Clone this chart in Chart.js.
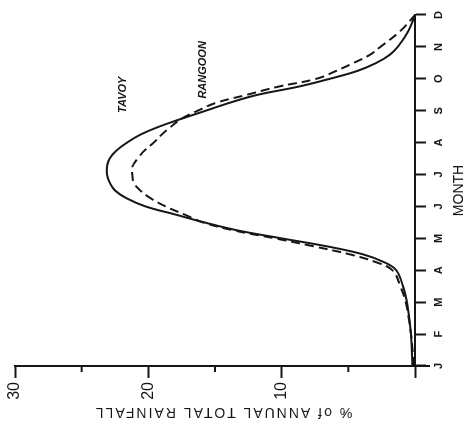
<!DOCTYPE html>
<html>
<head>
<meta charset="utf-8">
<script src="https://cdn.jsdelivr.net/npm/chart.js@4"></script>
<style>
  html, body { margin: 0; padding: 0; background: #fff; overflow: hidden; }
  /* the chart is drawn upright and then turned on its side */
  #wrap {
    position: absolute; left: 0; top: 0;
    width: 429px; height: 468px;
    transform-origin: 0 0;
    transform: translateY(429px) rotate(-90deg);
  }
</style>
</head>
<body>
<div id="wrap"><canvas id="rainChart" width="429" height="468"></canvas></div>
<script>
const months = ['J', 'F', 'M', 'A', 'M', 'J', 'J', 'A', 'S', 'O', 'N', 'D'];
// position along the year, 0 = January tick, 11 = December tick
const monthPos = [0, 1, 2, 2.5, 3, 3.25, 3.5, 3.75, 4, 4.25, 4.5, 4.75, 5, 5.25, 5.5, 5.75,
                  6, 6.25, 6.5, 6.75, 7, 7.25, 7.5, 7.75, 8, 8.25, 8.5, 8.75, 9, 9.25, 9.5, 9.75,
                  10, 10.5, 11];
// % of annual total rainfall
const tavoy = [0.2, 0.3, 0.6, 0.9, 1.4, 2.3, 3.9, 6.6, 10.0, 13.3, 15.8, 18.0, 20.2, 21.6, 22.5, 22.9,
               23.1, 23.1, 22.9, 22.4, 21.6, 20.6, 19.2, 17.5, 15.7, 13.9, 11.8, 8.8, 6.4, 4.3, 2.9, 1.9,
               1.3, 0.5, 0];
const rangoon = [0.1, 0.3, 0.7, 1.1, 1.7, 2.9, 4.9, 7.6, 10.5, 13.6, 15.9, 17.3, 18.7, 19.8, 20.6, 21.1,
                 21.2, 21.2, 20.8, 20.3, 19.6, 19.0, 18.3, 17.5, 16.3, 14.9, 12.6, 10.3, 7.4, 5.9, 4.6, 3.4,
                 2.6, 1.1, 0];
const pctLabels = [10, 20, 30];

const ink = '#161616';
const family = "'Liberation Sans', Arial, sans-serif";

function toPoints(vals) {
    return monthPos.map((m, i) => ({ x: m, y: vals[i] }));
}

// short ticks, the long J tick, station names and the rotated y title
const axisExtras = {
    id: 'axisExtras',
    afterDraw(chart) {
        const { ctx, chartArea: a, scales: { x, y } } = chart;
        ctx.save();
        ctx.strokeStyle = ink;
        ctx.lineWidth = 2;

        y.ticks.filter(t => t.value % 10 !== 0).forEach(t => {
            const py = y.getPixelForValue(t.value);
            ctx.beginPath();
            ctx.moveTo(a.left - 6, py);
            ctx.lineTo(a.left, py);
            ctx.stroke();
        });

        const x0 = x.getPixelForValue(0);
        ctx.beginPath();
        ctx.moveTo(x0, a.bottom);
        ctx.lineTo(x0, a.bottom + 15);
        ctx.stroke();

        ctx.fillStyle = ink;
        ctx.textAlign = 'center';
        ctx.textBaseline = 'middle';
        ctx.font = 'italic bold 11px ' + family;
        ctx.fillText('TAVOY', x.getPixelForValue(8.5), y.getPixelForValue(21.9));
        ctx.fillText('RANGOON', x.getPixelForValue(9.28), y.getPixelForValue(15.9));

        ctx.translate(17, (a.top + a.bottom) / 2 + 8);
        ctx.rotate(-Math.PI / 2);
        ctx.letterSpacing = '2px';
        ctx.font = '14px ' + family;
        ctx.fillText('% of ANNUAL TOTAL RAINFALL', 0, 0);
        ctx.restore();
    }
};

new Chart(document.getElementById('rainChart'), {
    type: 'line',
    data: {
        datasets: [
            {
                label: 'TAVOY',
                data: toPoints(tavoy),
                borderColor: ink,
                borderWidth: 2,
                pointRadius: 0,
                tension: 0.4,
                fill: false
            },
            {
                label: 'RANGOON',
                data: toPoints(rangoon),
                borderColor: ink,
                borderWidth: 2,
                borderDash: [9, 5],
                pointRadius: 0,
                tension: 0.4,
                fill: false
            }
        ]
    },
    options: {
        responsive: false,
        animation: false,
        layout: { padding: { top: 15, right: 15, left: 0, bottom: 0 } },
        plugins: { legend: { display: false }, tooltip: { enabled: false } },
        scales: {
            x: {
                type: 'linear',
                min: 0,
                max: 11,
                afterFit: s => { s.height = 53; },
                ticks: {
                    stepSize: 1,
                    autoSkip: false,
                    maxRotation: 0,
                    padding: 6,
                    color: ink,
                    font: { family, size: 11, weight: 'bold' },
                    callback: v => months[v]
                },
                grid: { drawOnChartArea: false, tickLength: 11, tickWidth: 2, tickColor: ink },
                border: { display: true, color: ink, width: 2 },
                title: {
                    display: true,
                    text: 'MONTH',
                    color: ink,
                    font: { family, size: 14 },
                    padding: { top: 0, bottom: 0 }
                }
            },
            y: {
                min: 0,
                max: 30,
                afterFit: s => { s.width = 63; },
                ticks: {
                    stepSize: 5,
                    padding: 4,
                    color: ink,
                    font: { family, size: 16 },
                    callback: v => pctLabels.includes(v) ? v : ''
                },
                grid: {
                    drawOnChartArea: false,
                    tickLength: 12,
                    tickWidth: 2,
                    tickColor: c => (c.tick && c.tick.value % 10 === 0) ? ink : 'rgba(0,0,0,0)'
                },
                border: { display: true, color: ink, width: 2 }
            }
        }
    },
    plugins: [axisExtras]
});
</script>
</body>
</html>
